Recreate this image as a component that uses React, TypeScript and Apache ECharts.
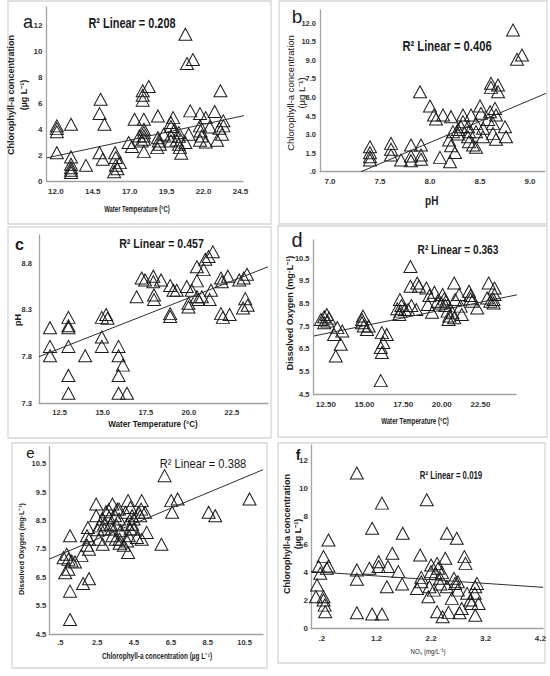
import React, { useEffect, useRef } from "react";
import * as echarts from "echarts";

// ---------- data ----------
// a: water temperature (°C) vs chlorophyll-a (µg/L)
const panelAPoints = [
  [12.07, 4.05], [12.07, 3.8], [12.07, 4.26], [12.07, 2.19], [13.03, 4.39], [13.03, 1.86], [13.03, 1.29], [13.03, 1.03],
  [13.03, 0.83], [13.03, 0.65], [14.04, 1.21], [15.03, 6.32], [14.96, 5.21], [15.29, 4.39], [14.96, 2.19], [15.18, 1.68],
  [16.01, 2.19], [16.06, 1.81], [16.06, 1.21], [16.17, 0.95], [15.95, 0.72], [16.34, 1.42], [16.93, 2.97], [17.15, 2.66],
  [17.33, 4.77], [17.66, 3.48], [17.81, 3.1], [17.88, 6.97], [17.88, 6.63], [17.88, 6.25], [17.96, 4.77], [17.96, 4.0],
  [17.96, 3.74], [17.96, 3.48], [17.96, 3.23], [17.96, 2.27], [18.29, 7.3], [18.91, 5.03], [18.91, 3.35], [18.97, 3.1],
  [19.04, 2.84], [18.86, 2.58], [19.3, 3.61], [19.79, 4.52], [19.79, 4.21], [19.94, 4.9], [20.0, 3.92], [19.79, 3.48],
  [19.79, 3.1], [20.33, 3.74], [20.33, 3.43], [20.33, 2.84], [20.4, 2.58], [20.49, 2.14], [20.18, 3.17], [20.77, 11.35],
  [20.88, 9.08], [21.28, 9.39], [21.1, 5.42], [20.77, 2.97], [20.99, 3.61], [21.76, 5.21], [21.76, 4.26], [21.8, 3.87],
  [21.87, 3.48], [21.76, 3.15], [22.15, 4.9], [22.15, 3.02], [22.42, 4.18], [22.75, 5.37], [23.07, 4.08], [23.25, 3.61],
  [22.92, 3.15], [23.14, 6.97], [23.34, 4.65], [23.34, 4.26],
];
const panelAFit = [[11.37, 1.78], [26.03, 5.37]];
const panelAXTicks = [12.0, 14.5, 17.0, 19.5, 22.0, 24.5];
const panelAYTicks = [0, 2, 4, 6, 8, 10, 12];

// b: pH vs chlorophyll-a
const panelBPoints = [
  [7.4, 2.02], [7.4, 1.54], [7.4, 1.21], [7.4, 0.94], [7.61, 2.29], [7.61, 1.81], [7.61, 1.35], [7.71, 0.94],
  [7.81, 2.16], [7.81, 1.27], [7.81, 0.89], [7.91, 2.16], [7.91, 1.35], [7.91, 1.0], [7.9, 6.47], [8.0, 5.31],
  [8.1, 1.16], [8.2, 0.81], [8.04, 4.58], [8.06, 4.26], [8.13, 4.58], [8.21, 4.45], [8.19, 2.56], [8.21, 2.1],
  [8.25, 1.56], [8.23, 3.24], [8.28, 3.42], [8.28, 3.05], [8.33, 4.58], [8.33, 4.05], [8.38, 3.64], [8.39, 3.24],
  [8.41, 4.58], [8.38, 2.83], [8.39, 2.43], [8.43, 2.16], [8.46, 1.97], [8.46, 3.91], [8.5, 5.31], [8.51, 4.72],
  [8.53, 3.51], [8.53, 2.83], [8.6, 4.85], [8.61, 7.15], [8.61, 6.82], [8.63, 3.91], [8.63, 3.1], [8.65, 5.12],
  [8.66, 4.58], [8.68, 7.01], [8.68, 6.47], [8.66, 2.62], [8.75, 3.64], [8.76, 2.83], [8.83, 11.46], [8.87, 9.09],
  [8.92, 9.44], [8.31, 3.64], [8.46, 3.24], [8.58, 4.23],
];
const panelBFit = [[7.31, 0], [9.17, 6.37]];
const panelBXTicks = [7.0, 7.5, 8.0, 8.5, 9.0];
const panelBYTicks = [0, 1.5, 3.0, 4.5, 6.0, 7.5, 9.0, 10.5, 12.0];

// c: water temperature vs pH
const panelCPoints = [
  [11.94, 8.11], [11.94, 7.91], [11.94, 7.81], [13.01, 8.22], [13.01, 8.13], [13.01, 8.11], [13.01, 7.91], [13.01, 7.6],
  [13.01, 7.41], [13.98, 7.81], [14.95, 8.22], [15.2, 8.25], [15.28, 8.21], [14.95, 8.01], [14.95, 7.91], [15.92, 7.91],
  [15.92, 7.81], [16.17, 7.71], [15.92, 7.6], [15.92, 7.41], [16.41, 7.41], [16.97, 8.44], [17.26, 8.64], [17.46, 8.62],
  [17.94, 8.66], [17.94, 8.6], [17.98, 8.46], [17.98, 8.41], [18.39, 8.62], [18.92, 8.56], [18.92, 8.26], [18.92, 8.23],
  [19.11, 8.51], [19.3, 8.51], [19.88, 8.55], [19.98, 8.37], [19.98, 8.33], [20.17, 8.51], [20.47, 8.76], [20.47, 8.44],
  [20.56, 8.41], [20.47, 8.61], [20.86, 8.73], [20.96, 8.84], [21.15, 8.87], [21.4, 8.92], [20.76, 8.44], [21.21, 8.41],
  [21.29, 8.51], [21.87, 8.64], [21.92, 8.6], [22.27, 8.66], [21.87, 8.26], [21.98, 8.22], [22.37, 8.25], [22.93, 8.62],
  [23.19, 8.64], [23.38, 8.68], [23.28, 8.42], [23.42, 8.35], [23.15, 8.32],
];
const panelCFit = [[11.3, 7.8], [24.6, 8.76]];
const panelCXTicks = [12.5, 15.0, 17.5, 20.0, 22.5];
const panelCYTicks = [7.3, 7.8, 8.3, 8.8];

// d: water temperature vs dissolved oxygen
const panelDPoints = [
  [12.18, 7.79], [12.39, 7.91], [12.56, 8.01], [12.71, 7.85], [12.39, 7.65], [12.6, 7.72],
  [13.03, 7.13], [13.24, 7.43], [13.56, 7.28], [13.46, 6.7], [13.14, 6.18],
  [14.84, 7.79], [14.84, 7.65], [14.95, 7.5], [14.9, 7.94], [15.16, 7.35], [15.27, 7.5],
  [16.12, 7.21], [16.22, 6.77], [16.05, 6.55], [16.12, 6.33], [16.44, 7.13], [16.05, 5.09],
  [17.29, 8.67], [17.12, 8.26], [17.39, 8.41], [17.33, 8.16], [17.25, 8.01], [17.61, 8.23], [17.82, 8.23],
  [17.97, 10.13], [17.97, 9.26], [18.03, 8.41], [18.35, 8.23], [18.41, 9.4], [18.52, 9.26],
  [19.0, 9.18], [19.2, 8.85], [19.1, 8.45], [19.37, 8.11], [19.52, 8.99], [19.73, 8.6],
  [19.95, 8.52], [20.05, 8.89], [20.16, 8.7], [20.27, 8.6], [20.23, 8.41], [20.37, 8.16], [20.48, 7.94], [20.44, 7.79],
  [20.8, 9.4], [20.86, 8.67], [20.8, 7.87], [20.69, 8.09], [21.12, 8.89], [21.22, 8.38], [21.29, 8.01],
  [21.76, 9.04], [21.86, 8.85], [21.86, 8.7], [21.97, 8.6], [22.29, 8.3],
  [23.03, 9.4], [22.93, 8.74], [23.14, 8.6], [23.41, 9.18], [23.41, 8.89], [23.35, 8.67], [23.35, 8.52],
];
const panelDFit = [[11.71, 7.06], [26.54, 9.11]];
const panelDXTicks = [12.5, 15.0, 17.5, 20.0, 22.5];
const panelDYTicks = [4.5, 5.5, 6.5, 7.5, 8.5, 9.5, 10.5];

// e: chlorophyll-a vs dissolved oxygen
const panelEPoints = [
  [1.03, 7.96], [1.03, 6.01], [1.03, 5.01], [0.77, 6.66], [0.94, 6.78], [0.85, 7.31], [0.68, 7.19], [0.94, 7.13],
  [1.12, 7.07], [1.3, 7.04], [1.65, 7.27], [1.74, 6.28], [2.06, 6.45], [2.0, 8.25], [1.95, 7.96], [2.06, 7.84],
  [1.95, 7.63], [2.06, 7.49], [2.45, 9.08], [2.45, 8.67], [2.62, 8.31], [2.54, 8.17], [2.59, 7.84], [2.8, 7.66],
  [2.8, 8.55], [2.89, 8.37], [2.89, 8.2], [2.98, 8.81], [3.12, 8.88], [3.15, 8.61], [3.24, 8.37], [3.3, 8.2],
  [3.33, 9.08], [3.47, 8.67], [3.54, 8.34], [3.33, 7.96], [3.6, 8.9], [3.69, 8.55], [3.77, 8.14], [3.51, 7.84],
  [3.72, 7.7], [3.72, 7.84], [3.95, 7.63], [4.13, 8.37], [4.18, 9.2], [4.22, 7.96], [4.04, 8.79], [4.31, 8.96],
  [4.4, 8.67], [4.31, 8.2], [4.13, 7.78], [4.18, 7.37], [4.48, 8.55], [4.4, 8.37], [4.75, 8.79], [4.84, 8.67],
  [4.48, 8.2], [4.66, 7.9], [4.92, 7.84], [5.1, 8.79], [5.19, 8.08], [4.89, 8.9], [6.16, 10.08], [5.99, 7.66],
  [6.52, 9.2], [6.57, 8.79], [6.87, 9.26], [8.55, 8.79], [8.91, 8.67], [10.77, 9.26], [4.92, 9.2], [3.69, 8.9],
];
const panelEFit = [[-0.1, 7.14], [11.5, 10.29]];
const panelEXTicks = [0.5, 2.5, 4.5, 6.5, 8.5, 10.5];
const panelEYTicks = [4.5, 5.5, 6.5, 7.5, 8.5, 9.5, 10.5];

// f: NO3 vs chlorophyll-a
const panelFPoints = [
  [0.09, 2.27], [0.11, 3.1], [0.14, 4.42], [0.17, 3.94], [0.23, 5.13], [0.23, 2.27], [0.23, 2.03], [0.25, 1.67],
  [0.26, 1.19], [0.29, 4.3], [0.32, 6.32], [0.32, 4.46], [0.84, 11.1], [0.84, 4.18], [0.84, 3.51], [0.84, 1.12],
  [1.07, 4.3], [1.12, 7.16], [1.12, 1.03], [1.24, 4.77], [1.24, 4.42], [1.3, 8.95], [1.3, 1.03], [1.41, 4.42],
  [1.39, 2.98], [1.49, 5.37], [1.6, 4.06], [1.67, 3.17], [1.68, 6.8], [1.94, 2.86], [2.0, 5.25], [2.02, 3.65],
  [2.02, 3.34], [2.12, 9.19], [2.15, 2.27], [2.17, 2.98], [2.2, 4.53], [2.25, 2.74], [2.28, 3.94], [2.31, 4.65],
  [2.33, 4.3], [2.31, 1.19], [2.37, 3.58], [2.37, 3.17], [2.41, 0.84], [2.4, 3.99], [2.46, 5.01], [2.49, 6.8],
  [2.49, 2.98], [2.52, 1.15], [2.58, 2.15], [2.62, 3.58], [2.64, 3.22], [2.67, 6.44], [2.69, 2.74], [2.72, 1.12],
  [2.76, 1.43], [2.81, 5.13], [2.83, 4.65], [2.86, 2.51], [2.92, 2.03], [2.94, 1.79], [3.0, 2.51], [3.01, 2.98],
  [3.04, 3.22], [3.01, 0.95], [3.07, 1.79], [2.69, 3.34], [2.2, 4.06],
];
const panelFFit = [[0, 4.07], [4.25, 2.94]];
const panelFXTicks = [0.2, 1.2, 2.2, 3.2, 4.2];
const panelFYTicks = [0, 2, 4, 6, 8, 10, 12];

const r2Labels = ["0.208", "0.406", "0.457", "0.363", "0.388", "0.019"];

// ---------- chart ----------
const NARROW = "'Liberation Sans Narrow', 'Liberation Sans', Arial, sans-serif";
const SANS = "'Liberation Sans', Arial, sans-serif";

type Fmt = (v: number) => string;
const fix1: Fmt = (v) => v.toFixed(1);
const fix2: Fmt = (v) => v.toFixed(2);
const intF: Fmt = (v) => String(Math.round(v));
const noLead: Fmt = (v) => v.toFixed(1).replace(/^0/, "");

function axisCommon(gridIndex: number, min: number, max: number, ticks: number[], fmt: Fmt, fontSize: number, margin: number) {
  return {
    type: "value",
    gridIndex,
    min,
    max,
    splitLine: { show: false },
    axisTick: { show: false },
    axisLine: { show: true, onZero: false, lineStyle: { color: "#a3a3a3", width: 1.3 } },
    axisLabel: {
      customValues: ticks,
      formatter: (v: number) => fmt(v),
      fontSize,
      fontWeight: "bold",
      fontFamily: NARROW,
      color: "#333333",
      margin,
    },
  };
}

function App() {
  const ref = useRef<HTMLDivElement>(null);
  useEffect(() => {
    document.body.style.margin = "0";
    const chart = echarts.init(ref.current as HTMLDivElement, null, { renderer: "svg" });

    const grids = [
      { left: 46.5, top: 7, width: 196.5, height: 174 },
      { left: 320, top: 10, width: 225, height: 161.7 },
      { left: 39, top: 235, width: 229, height: 168.5 },
      { left: 313.5, top: 240, width: 202.5, height: 154 },
      { left: 49.2, top: 446.7, width: 213.8, height: 187.3 },
      { left: 311, top: 445, width: 232, height: 183.5 },
    ];

    const xAxis = [
      axisCommon(0, 11.37, 24.67, panelAXTicks, fix1, 8, 6),
      axisCommon(1, 6.9, 9.15, panelBXTicks, fix1, 8, 6),
      axisCommon(2, 11.3, 24.6, panelCXTicks, fix1, 7.5, 5),
      axisCommon(3, 11.7, 24.8, panelDXTicks, fix2, 8, 6),
      axisCommon(4, -0.1, 11.5, panelEXTicks, noLead, 7.5, 4),
      axisCommon(5, 0, 4.25, panelFXTicks, noLead, 8, 6),
    ];
    const yAxis = [
      axisCommon(0, 0, 13.45, panelAYTicks, intF, 8, 4),
      axisCommon(1, 0, 13.08, panelBYTicks, (v) => (v === 0 ? ".0" : v.toFixed(1)), 7.5, 4),
      axisCommon(2, 7.3, 9.1, panelCYTicks, fix1, 7.5, 7),
      axisCommon(3, 4.5, 11.3, panelDYTicks, fix1, 7.5, 4),
      axisCommon(4, 4.5, 11.1, panelEYTicks, fix1, 7.5, 3),
      axisCommon(5, 0, 13.1, panelFYTicks, intF, 8, 3),
    ];

    const pts = [panelAPoints, panelBPoints, panelCPoints, panelDPoints, panelEPoints, panelFPoints];
    const fits = [panelAFit, panelBFit, panelCFit, panelDFit, panelEFit, panelFFit];
    const series: any[] = [];
    pts.forEach((p, i) => {
      series.push({
        type: "scatter",
        xAxisIndex: i,
        yAxisIndex: i,
        data: p,
        symbol: "triangle",
        symbolSize: [13, 12],
        itemStyle: { color: "rgba(0,0,0,0)", borderColor: "#1c1c1c", borderWidth: 1, opacity: 1 },
        silent: true,
      });
      series.push({
        type: "line",
        xAxisIndex: i,
        yAxisIndex: i,
        data: fits[i],
        symbol: "none",
        clip: false,
        lineStyle: { color: "#2e2e2e", width: 1 },
        silent: true,
      });
    });

    const frame = (x: number, y: number, w: number, h: number) => ({
      type: "rect",
      shape: { x, y, width: w, height: h },
      style: { fill: "none", stroke: "#d6d6d6", lineWidth: 1.3 },
      silent: true,
    });
    const txt = (
      text: string,
      x: number,
      y: number,
      fontSize: number,
      opts: { bold?: boolean; scaleX?: number; rot?: boolean; family?: string; lineHeight?: number; color?: string } = {}
    ) => ({
      type: "text",
      x,
      y,
      rotation: opts.rot ? Math.PI / 2 : 0,
      scaleX: opts.scaleX ?? 1,
      silent: true,
      style: {
        text,
        fontSize,
        fontWeight: opts.bold ? "bold" : "normal",
        fontFamily: opts.family ?? SANS,
        fill: opts.color ?? "#1a1a1a",
        align: "center",
        verticalAlign: "middle",
        textAlign: "center",
        textVerticalAlign: "middle",
        lineHeight: opts.lineHeight ?? fontSize * 1.2,
      },
    });

    const chlName = "Chlorophyll-a concentration\n(µg L⁻¹)";
    const graphic = [
      frame(8, 1, 263, 223),
      frame(279, 1, 268, 223),
      frame(8, 227, 263, 211),
      frame(278, 226, 269, 211),
      frame(12, 443, 255, 225),
      frame(278, 443, 267, 220),
      // a
      txt("a", 28, 22, 18, { lineHeight: 18 }),
      txt("R² Linear = " + r2Labels[0], 132, 24, 14, { bold: true, scaleX: 0.78 }),
      txt(chlName, 17.5, 95, 9, { bold: true, rot: true, lineHeight: 13 }),
      txt("Water Temperature (°C)", 137, 209, 9, { bold: true, scaleX: 0.66, color: "#222" }),
      // b
      txt("b", 297, 16, 19, { lineHeight: 19 }),
      txt("R² Linear = " + r2Labels[1], 447, 47, 14, { bold: true, scaleX: 0.8 }),
      txt(chlName, 295.5, 93, 9.5, { rot: true, lineHeight: 11, color: "#111" }),
      txt("pH", 431.7, 201, 12.5, { bold: true, scaleX: 0.8 }),
      // c
      txt("c", 19.5, 244, 16, { bold: true, lineHeight: 16 }),
      txt("R² Linear = " + r2Labels[2], 161.5, 243, 12.5, { bold: true, scaleX: 0.85 }),
      txt("pH", 18.3, 320, 9, { bold: true, rot: true }),
      txt("Water Temperature (°C)", 153, 424, 9, { bold: true, scaleX: 0.9 }),
      // d
      txt("d", 297, 240, 20, { lineHeight: 20 }),
      txt("R² Linear = " + r2Labels[3], 458, 249, 13, { bold: true, scaleX: 0.78 }),
      txt("Dissolved Oxygen (mg·L⁻¹)", 290, 313, 9, { bold: true, rot: true }),
      txt("Water Temperature (°C)", 415, 421.5, 9, { bold: true, scaleX: 0.68, color: "#222" }),
      // e
      txt("e", 30.5, 452.5, 15, { lineHeight: 15 }),
      txt("R² Linear = " + r2Labels[4], 203, 464, 13, { scaleX: 0.86 }),
      txt("Dissolved Oxygen (mg·L⁻¹)", 21.7, 549, 8, { bold: true, rot: true, scaleX: 0.9 }),
      txt("Chlorophyll-a concentration (µg L⁻¹)", 157, 656, 8.5, { bold: true, scaleX: 0.76 }),
      // f
      txt("f", 298, 455, 14, { bold: true, lineHeight: 14 }),
      txt("R² Linear = " + r2Labels[5], 451, 475, 11.5, { bold: true, scaleX: 0.68 }),
      txt(chlName, 292, 534, 9, { bold: true, rot: true, lineHeight: 11 }),
      txt("NO₃ (mg/L⁻¹)", 428, 651.5, 7.5, { scaleX: 0.82, color: "#222" }),
    ];

    chart.setOption({
      animation: false,
      backgroundColor: "#ffffff",
      grid: grids,
      xAxis,
      yAxis,
      series,
      graphic,
    } as any);
    return () => chart.dispose();
  }, []);
  return <div ref={ref} style={{ width: 550, height: 676 }} />;
}

export default App;
